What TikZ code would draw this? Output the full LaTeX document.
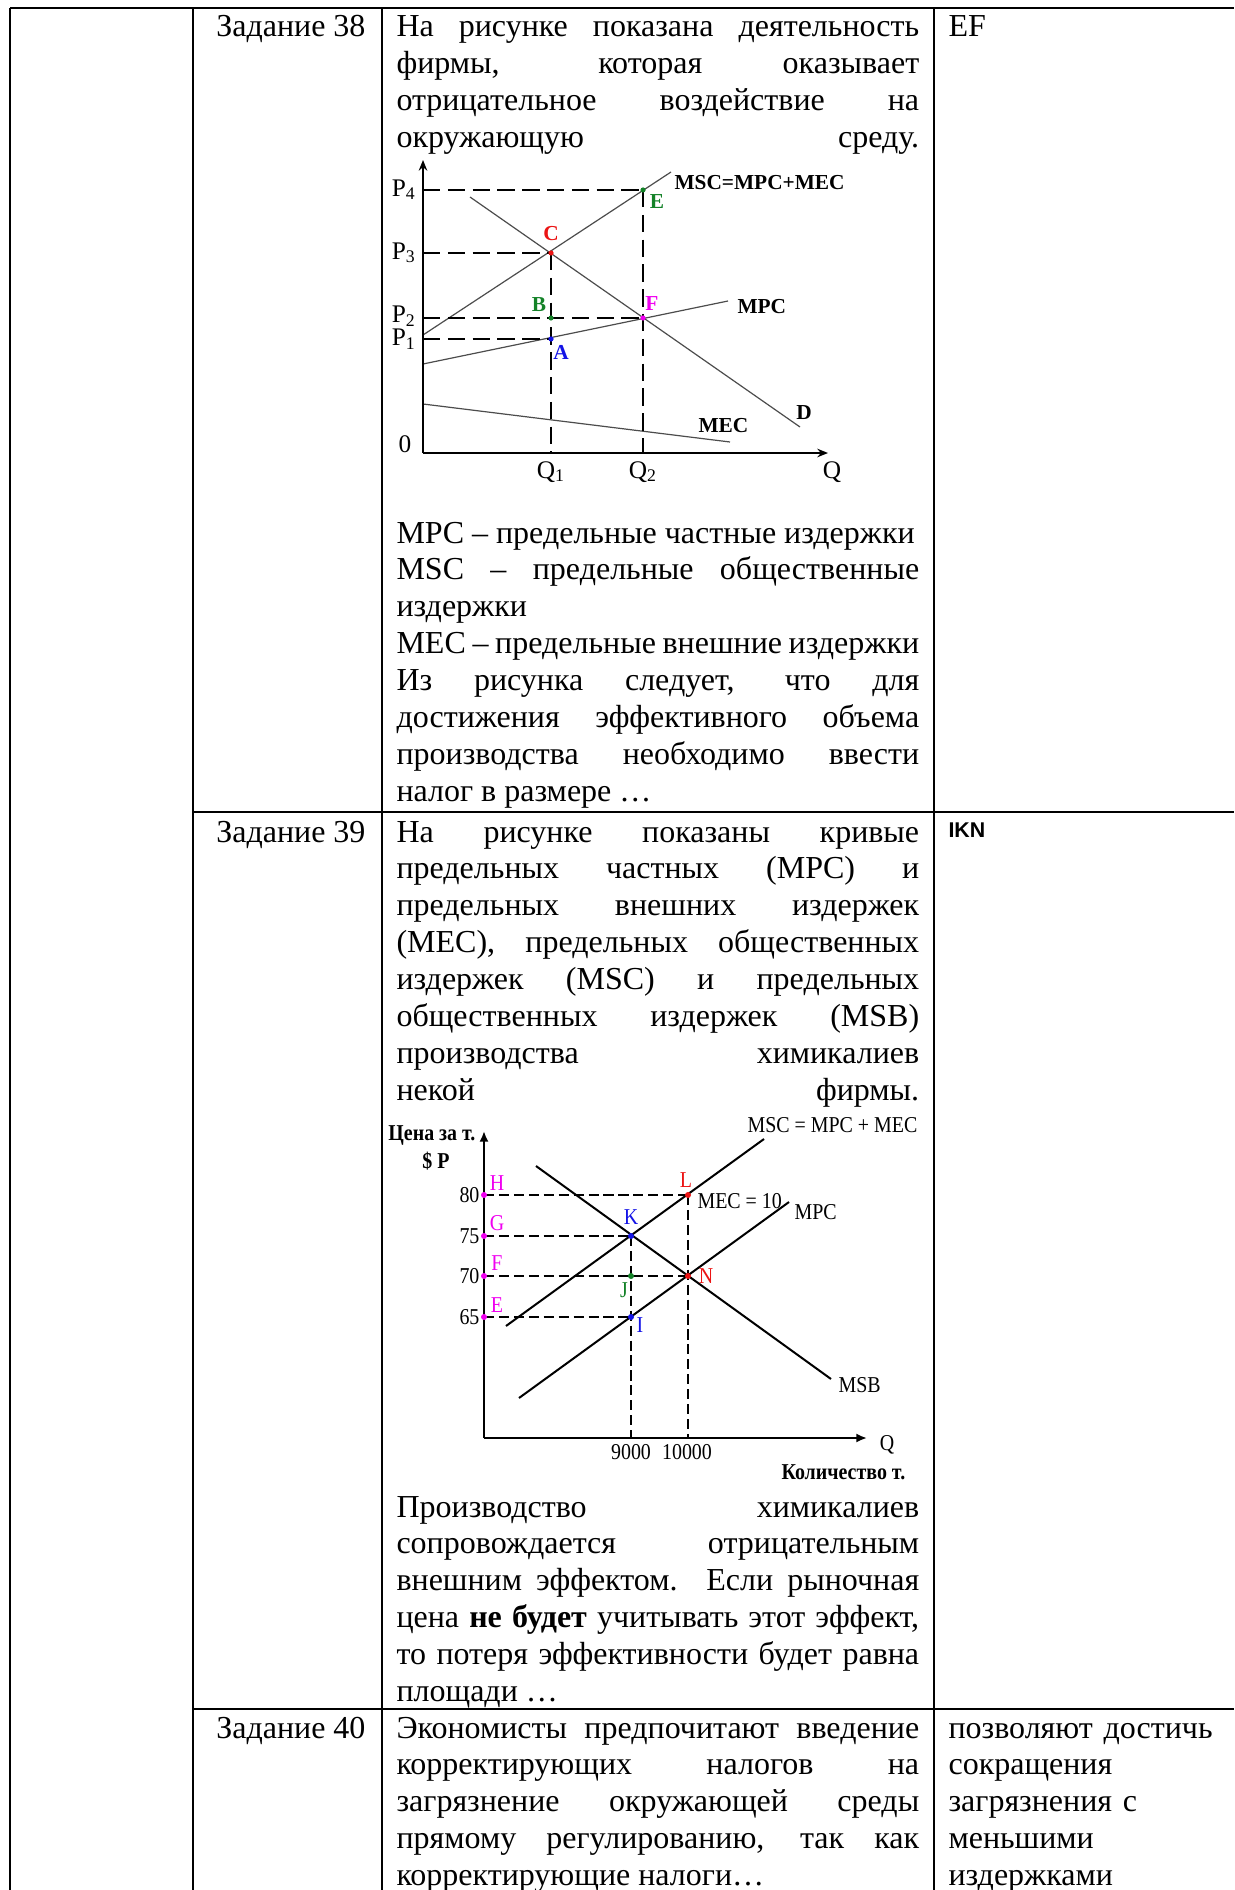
\documentclass[tikz,border=0pt]{standalone}
\usepackage{fontspec}
\setmainfont{Liberation Serif}
\newfontfamily\narrowfont[FakeStretch=0.88]{Liberation Serif}
\newfontfamily\answersans{Liberation Sans}
\usetikzlibrary{arrows.meta}
\definecolor{ptRed}{RGB}{235,20,20}
\definecolor{ptGreen}{RGB}{20,130,40}
\definecolor{ptBlue}{RGB}{20,20,230}
\definecolor{ptMagenta}{RGB}{240,0,240}
\hyphenpenalty=10000
\exhyphenpenalty=10000

\tikzset{
  cell line/.style={line width=0.75pt},
  para/.style={anchor=base west,inner sep=0pt,text width=196pt,align=justify,font=\fontsize{12}{13.84}\selectfont},
  task/.style={anchor=base east,inner sep=0pt,font=\fontsize{12}{13.84}\selectfont},
  answer/.style={anchor=base west,inner sep=0pt,text width=105pt,align=left,font=\fontsize{12}{13.84}\selectfont},
  axis one/.style={line width=0.8pt,-{Stealth[length=4pt,width=3.2pt]}},
  curve one/.style={line width=0.45pt,black!70},
  guide one/.style={line width=0.6pt,dash pattern=on 6.5pt off 2.8pt},
  lab one/.style={inner sep=0pt,font=\fontsize{8}{9}\selectfont\bfseries},
  tick one/.style={inner sep=0pt,font=\fontsize{9.5}{11}\selectfont},
  axis two/.style={line width=0.9pt,-{Latex[length=4pt,width=3.4pt]}},
  curve two/.style={line width=0.75pt},
  guide two/.style={line width=0.75pt,dash pattern=on 3.8pt off 1.8pt},
  lab two/.style={inner sep=0pt,font=\fontsize{8.5}{10}\narrowfont},
}

\begin{document}
\begin{tikzpicture}[x=0.375pt,y=-0.375pt]
\useasboundingbox (0,0) rectangle (1234,1890);

% Table rules
\draw[cell line] (10,8) -- (1234,8);
\foreach \xx in {10,193,382,934} \draw[cell line] (\xx,8) -- (\xx,1890);
\draw[cell line] (193,812) -- (1234,812);
\draw[cell line] (193,1709) -- (1234,1709);

% Task 38
\node[task] (t38) at (366,37) {Задание 38};
\node[para] (q38a) at (396,37) {На рисунке показана деятельность\linebreak
  фирмы, которая оказывает\linebreak
  отрицательное воздействие на\linebreak
  окружающую\hfill среду.};
\node[para] (q38b) at (396,543) {MPC – предельные частные издержки\par
  MSC – предельные общественные\linebreak издержки\par
  MEC – предельные внешние издержки\par
  Из рисунка следует, что для\linebreak
  достижения эффективного объема\linebreak
  производства необходимо ввести\linebreak
  налог в размере …};
\node[answer] (a38) at (948,37) {EF};

% Graph 1
\coordinate (g1o) at (423,453);
\coordinate (g1p4) at (423,190);
\coordinate (g1p3) at (423,253);
\coordinate (g1p2) at (423,318);
\coordinate (g1p1) at (423,339);
\coordinate (g1q1) at (551,453);
\coordinate (g1q2) at (643,453);
\coordinate (g1E) at (643,190);
\coordinate (g1C) at (551,253);
\coordinate (g1B) at (551,318);
\coordinate (g1F) at (643,318);
\coordinate (g1A) at (551,339);
\draw[curve one] (423,335) -- (671,172);
\draw[curve one] (423,364) -- (728,301);
\draw[curve one] (470,197) -- (800,427);
\draw[curve one] (423,404) -- (730,442);
\draw[guide one] (g1p4) -- (g1E);
\draw[guide one] (g1p3) -- (g1C);
\draw[guide one] (g1p2) -- (g1F);
\draw[guide one] (g1p1) -- (g1A);
\draw[guide one] (g1C) -- (g1q1);
\draw[guide one] (g1E) -- (g1q2);
\draw[axis one] (g1o) -- (423,160);
\draw[axis one] (g1o) -- (828,453);
\fill[ptGreen] (g1E) circle (2.6);
\fill[ptRed] (g1C) circle (2.6);
\fill[ptGreen] (g1B) circle (2.6);
\fill[ptMagenta] (g1F) circle (2.6);
\fill[ptBlue] (g1A) circle (2.6);
\node[tick one] (lp4) at (404,190) {P\textsubscript{4}};
\node[tick one] (lp3) at (404,253) {P\textsubscript{3}};
\node[tick one] (lp2) at (404,316) {P\textsubscript{2}};
\node[tick one] (lp1) at (404,339) {P\textsubscript{1}};
\node[tick one] (l0) at (405,444) {0};
\node[tick one] (lq1) at (551,472) {Q\textsubscript{1}};
\node[tick one] (lq2) at (643,472) {Q\textsubscript{2}};
\node[tick one] (lq) at (832,472) {Q};
\node[lab one,anchor=west] (lmsc) at (674,183) {MSC=MPC+MEC};
\node[lab one,anchor=west] (lmpc) at (737,307) {MPC};
\node[lab one,anchor=west] (lmec) at (698,426) {MEC};
\node[lab one] (ld) at (804,413) {D};
\node[lab one,ptRed] (lC) at (551,234) {C};
\node[lab one,ptGreen] (lB) at (539,305) {B};
\node[lab one,ptBlue] (lA) at (561,352) {A};
\node[lab one,ptMagenta] (lF) at (652,304) {F};
\node[lab one,ptGreen] (lE) at (657,202) {E};

% Task 39
\node[task] (t39) at (366,842) {Задание 39};
\node[para] (q39a) at (396,842) {На рисунке показаны кривые\linebreak
  предельных частных (MPC) и\linebreak
  предельных внешних издержек\linebreak
  (MEC), предельных общественных\linebreak
  издержек (MSC) и предельных\linebreak
  общественных издержек (MSB)\linebreak
  производства химикалиев\linebreak
  некой\hfill фирмы.};
\node[para] (q39b) at (396,1517) {Производство химикалиев\linebreak
  сопровождается отрицательным\linebreak
  внешним эффектом. Если рыночная\linebreak
  цена \textbf{не будет} учитывать этот эффект,\linebreak
  то потеря эффективности будет равна\linebreak
  площади …};
\node[answer,font=\fontsize{8}{9.6}\answersans\bfseries] (a39) at (948,837) {IKN};

% Graph 2
\coordinate (g2o) at (484,1438);
\coordinate (g2H) at (484,1195);
\coordinate (g2G) at (484,1236);
\coordinate (g2F) at (484,1276);
\coordinate (g2E) at (484,1317);
\coordinate (g2L) at (688,1195);
\coordinate (g2K) at (631,1236);
\coordinate (g2N) at (688,1276);
\coordinate (g2J) at (631,1276);
\coordinate (g2I) at (631,1317);
\coordinate (g2q9) at (631,1438);
\coordinate (g2q10) at (688,1438);
\draw[curve two] (506,1326) -- (764,1139);
\draw[curve two] (519,1398) -- (789,1202);
\draw[curve two] (536,1166) -- (831,1379);
\draw[guide two] (g2H) -- (g2L);
\draw[guide two] (g2G) -- (g2K);
\draw[guide two] (g2F) -- (g2N);
\draw[guide two] (g2E) -- (g2I);
\draw[guide two] (g2K) -- (g2q9);
\draw[guide two] (g2L) -- (g2q10);
\draw[axis two] (g2o) -- (484,1131);
\draw[axis two] (g2o) -- (867,1438);
\foreach \pp in {H,G,F,E} \fill[ptMagenta] (g2\pp) circle (3);
\fill[ptRed] (g2L) circle (3);
\fill[ptRed] (g2N) circle (3);
\fill[ptBlue] (g2K) circle (3);
\fill[ptBlue] (g2I) circle (3);
\fill[ptGreen] (g2J) circle (3);
\node[lab two,anchor=east] (l80) at (480,1195) {80};
\node[lab two,anchor=east] (l75) at (480,1236) {75};
\node[lab two,anchor=east] (l70) at (480,1276) {70};
\node[lab two,anchor=east] (l65) at (480,1317) {65};
\node[lab two,ptMagenta] (lH) at (497,1183) {H};
\node[lab two,ptMagenta] (lG) at (497,1223) {G};
\node[lab two,ptMagenta] (lF2) at (497,1263) {F};
\node[lab two,ptMagenta] (lE2) at (497,1305) {E};
\node[lab two,ptRed] (lL) at (686,1180) {L};
\node[lab two,ptBlue] (lK) at (631,1217) {K};
\node[lab two,ptRed] (lN) at (706,1276) {N};
\node[lab two,ptGreen] (lJ) at (624,1290) {J};
\node[lab two,ptBlue] (lI) at (640,1325) {I};
\node[lab two,anchor=west] (lmsc2) at (747,1125) {MSC = MPC + MEC};
\node[lab two,anchor=west] (lmec2) at (697,1201) {MEC = 10};
\node[lab two,anchor=west] (lmpc2) at (794,1212) {MPC};
\node[lab two,anchor=west] (lmsb) at (838,1385) {MSB};
\node[lab two] (lq2b) at (887,1445) {Q};
\node[lab two] (l9000) at (631,1452) {9000};
\node[lab two] (l10000) at (687,1452) {10000};
\node[lab two,anchor=east,font=\fontsize{8.5}{10}\narrowfont\bfseries] (lprice) at (476,1135) {Цена за т.};
\node[lab two,font=\fontsize{8.5}{10}\narrowfont\bfseries] (lunit) at (436,1161) {\$ P};
\node[lab two,anchor=west,font=\fontsize{8.5}{10}\narrowfont\bfseries] (lqty) at (781,1472) {Количество т.};

% Task 40
\node[task] (t40) at (366,1738) {Задание 40};
\node[para] (q40) at (396,1738) {Экономисты предпочитают введение\linebreak
  корректирующих налогов на\linebreak
  загрязнение окружающей среды\linebreak
  прямому регулированию, так как\linebreak
  корректирующие налоги…};
\node[answer] (a40) at (948,1738) {позволяют достичь\\ сокращения\\ загрязнения с\\ меньшими\\ издержками};
\end{tikzpicture}
\end{document}
